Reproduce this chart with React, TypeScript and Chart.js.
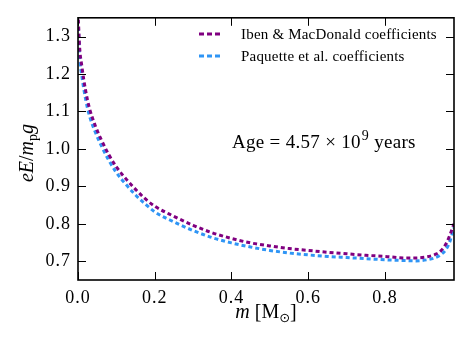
import React, { useEffect, useRef } from "react";
import { Chart, registerables } from "chart.js";

Chart.register(...registerables);

// Enclosed mass m [M_sun]
const massValues = [0.001, 0.004, 0.01, 0.02, 0.03, 0.045, 0.06, 0.08, 0.1, 0.125, 0.15, 0.175, 0.2, 0.25, 0.3, 0.35, 0.4, 0.45, 0.5, 0.55, 0.6, 0.65, 0.7, 0.75, 0.8, 0.85, 0.88, 0.91, 0.93, 0.945, 0.96, 0.97, 0.98];
// eE / m_p g — Iben & MacDonald coefficients
const ibenValues = [1.345, 1.275, 1.221, 1.155, 1.108, 1.062, 1.026, 0.985, 0.952, 0.92, 0.892, 0.867, 0.847, 0.82, 0.796, 0.776, 0.761, 0.749, 0.741, 0.734, 0.729, 0.724, 0.72, 0.716, 0.713, 0.709, 0.709, 0.712, 0.718, 0.727, 0.748, 0.772, 0.8];
// eE / m_p g — Paquette et al. coefficients
const paquetteValues = [1.325, 1.25, 1.195, 1.132, 1.088, 1.045, 1.01, 0.97, 0.937, 0.905, 0.877, 0.853, 0.832, 0.805, 0.782, 0.763, 0.749, 0.738, 0.729, 0.722, 0.717, 0.713, 0.71, 0.707, 0.704, 0.702, 0.701, 0.704, 0.709, 0.717, 0.733, 0.755, 0.79];

const xTickValues = [0.0, 0.2, 0.4, 0.6, 0.8];
const yTickValues = [0.7, 0.8, 0.9, 1.0, 1.1, 1.2, 1.3];

const seriesNames = ["Iben & MacDonald coefficients", "Paquette et al. coefficients"];
const seriesColors = ["#800080", "#2f95f5"];
const ageLabel = ["Age = 4.57 × 10", "9", " years"];

const SERIF = "'Liberation Serif', 'DejaVu Serif', serif";

const spacingPlugin = {
  id: "spacing",
  beforeDraw(chart: any) {
    (chart.ctx as any).letterSpacing = "1px";
  },
};

const overlayPlugin = {
  id: "overlay",
  afterDraw(chart: any) {
    const ctx = chart.ctx as CanvasRenderingContext2D;
    const a = chart.chartArea;
    const xs = chart.scales.x;
    const ys = chart.scales.y;
    ctx.save();
    (ctx as any).letterSpacing = "0px";
    // inward ticks on all sides
    ctx.strokeStyle = "#000";
    ctx.lineWidth = 1;
    const L = 8;
    xs.ticks.forEach((t: any) => {
      const px = Math.round(xs.getPixelForValue(t.value)) + 0.5;
      ctx.beginPath();
      ctx.moveTo(px, a.bottom);
      ctx.lineTo(px, a.bottom - L);
      ctx.moveTo(px, a.top);
      ctx.lineTo(px, a.top + L);
      ctx.stroke();
    });
    ys.ticks.forEach((t: any) => {
      const py = Math.round(ys.getPixelForValue(t.value)) + 0.5;
      ctx.beginPath();
      ctx.moveTo(a.left, py);
      ctx.lineTo(a.left + L, py);
      ctx.moveTo(a.right, py);
      ctx.lineTo(a.right - L, py);
      ctx.stroke();
    });
    // frame
    ctx.lineWidth = 1.6;
    ctx.strokeRect(a.left, a.top, a.right - a.left, a.bottom - a.top);

    // legend
    ctx.lineWidth = 3;
    ctx.setLineDash([5, 3]);
    ctx.font = `15px ${SERIF}`;
    (ctx as any).letterSpacing = "0.2px";
    ctx.textBaseline = "middle";
    ctx.textAlign = "left";
    ctx.fillStyle = "#000";
    seriesNames.forEach((name, i) => {
      const y = 34 + i * 22;
      ctx.strokeStyle = seriesColors[i];
      ctx.beginPath();
      ctx.moveTo(199, y);
      ctx.lineTo(220, y);
      ctx.stroke();
      ctx.fillText(name, 241, y + 1);
    });
    ctx.setLineDash([]);

    // age annotation
    ctx.font = `19px ${SERIF}`;
    (ctx as any).letterSpacing = "0.3px";
    ctx.textBaseline = "alphabetic";
    let x = 232;
    const base = 148;
    ctx.fillText(ageLabel[0], x, base);
    x += ctx.measureText(ageLabel[0]).width + 1;
    ctx.font = `14px ${SERIF}`;
    ctx.fillText(ageLabel[1], x, base - 8);
    x += ctx.measureText(ageLabel[1]).width;
    ctx.font = `19px ${SERIF}`;
    ctx.fillText(ageLabel[2], x, base);
    (ctx as any).letterSpacing = "0px";

    // x title: m [M_sun]
    {
      const parts: [string, string, number][] = [
        ["m", `italic 20px ${SERIF}`, 0],
        [" [M", `20px ${SERIF}`, 0],
        ["⊙", `13px 'DejaVu Sans', sans-serif`, 4],
        ["]", `20px ${SERIF}`, 0],
      ];
      let w = 0;
      parts.forEach(([s, f]) => { ctx.font = f; w += ctx.measureText(s).width; });
      let cx = 266 - w / 2;
      const by = 318;
      parts.forEach(([s, f, dy]) => {
        ctx.font = f;
        ctx.fillText(s, cx, by + dy);
        cx += ctx.measureText(s).width;
      });
    }
    // y title: eE/m_p g
    {
      ctx.save();
      ctx.translate(33, 153);
      ctx.rotate(-Math.PI / 2);
      const parts: [string, string, number][] = [
        ["eE", `italic 20px ${SERIF}`, 0],
        ["/", `20px ${SERIF}`, 0],
        ["m", `italic 20px ${SERIF}`, 0],
        ["p", `14px ${SERIF}`, 4],
        ["g", `italic 20px ${SERIF}`, 0],
      ];
      let w = 0;
      parts.forEach(([s, f]) => { ctx.font = f; w += ctx.measureText(s).width; });
      let cx = -w / 2;
      parts.forEach(([s, f, dy]) => {
        ctx.font = f;
        ctx.fillText(s, cx, dy);
        cx += ctx.measureText(s).width;
      });
      ctx.restore();
    }
    ctx.restore();
  },
};

export default function App() {
  const ref = useRef<HTMLCanvasElement | null>(null);
  useEffect(() => {
    if (!ref.current) return;
    const mk = (vals: number[]) => massValues.map((m, i) => ({ x: m, y: vals[i] }));
    const chart = new Chart(ref.current, {
      type: "line",
      data: {
        datasets: [
          {
            label: seriesNames[0],
            data: mk(ibenValues),
            borderColor: seriesColors[0],
            borderWidth: 3,
            borderDash: [4, 3],
            pointRadius: 0,
            cubicInterpolationMode: "monotone",
            fill: false,
          },
          {
            label: seriesNames[1],
            data: mk(paquetteValues),
            borderColor: seriesColors[1],
            borderWidth: 3,
            borderDash: [4, 3],
            pointRadius: 0,
            cubicInterpolationMode: "monotone",
            fill: false,
          },
        ],
      },
      options: {
        animation: false,
        responsive: false,
        devicePixelRatio: 1,
        layout: { padding: { left: 0, top: 14, right: 14, bottom: 0 } },
        plugins: { legend: { display: false }, tooltip: { enabled: false } },
        scales: {
          x: {
            type: "linear",
            min: 0,
            max: 0.98,
            grid: { display: false, drawTicks: false },
            border: { display: false },
            afterBuildTicks: (s: any) => { s.ticks = xTickValues.map((v) => ({ value: v })); },
            ticks: {
              padding: 7,
              color: "#000",
              font: { family: SERIF, size: 18 },
              maxRotation: 0,
              autoSkip: false,
              callback: (v: any) => Number(v).toFixed(1),
            },
            afterFit: (s: any) => { s.height = 68; },
          },
          y: {
            type: "linear",
            min: 0.65,
            max: 1.35,
            grid: { display: false, drawTicks: false },
            border: { display: false },
            afterBuildTicks: (s: any) => { s.ticks = yTickValues.map((v) => ({ value: v })); },
            ticks: {
              padding: 7,
              color: "#000",
              autoSkip: false,
              font: { family: SERIF, size: 18 },
              callback: (v: any) => Number(v).toFixed(1),
            },
            afterFit: (s: any) => { s.width = 78; },
          },
        },
      },
      plugins: [spacingPlugin, overlayPlugin],
    } as any);
    return () => chart.destroy();
  }, []);
  return (
    <div style={{ position: "absolute", left: 0, top: 0, width: 468, height: 348, background: "#fff" }}>
      <canvas ref={ref} width={468} height={348} style={{ display: "block" }} />
    </div>
  );
}
